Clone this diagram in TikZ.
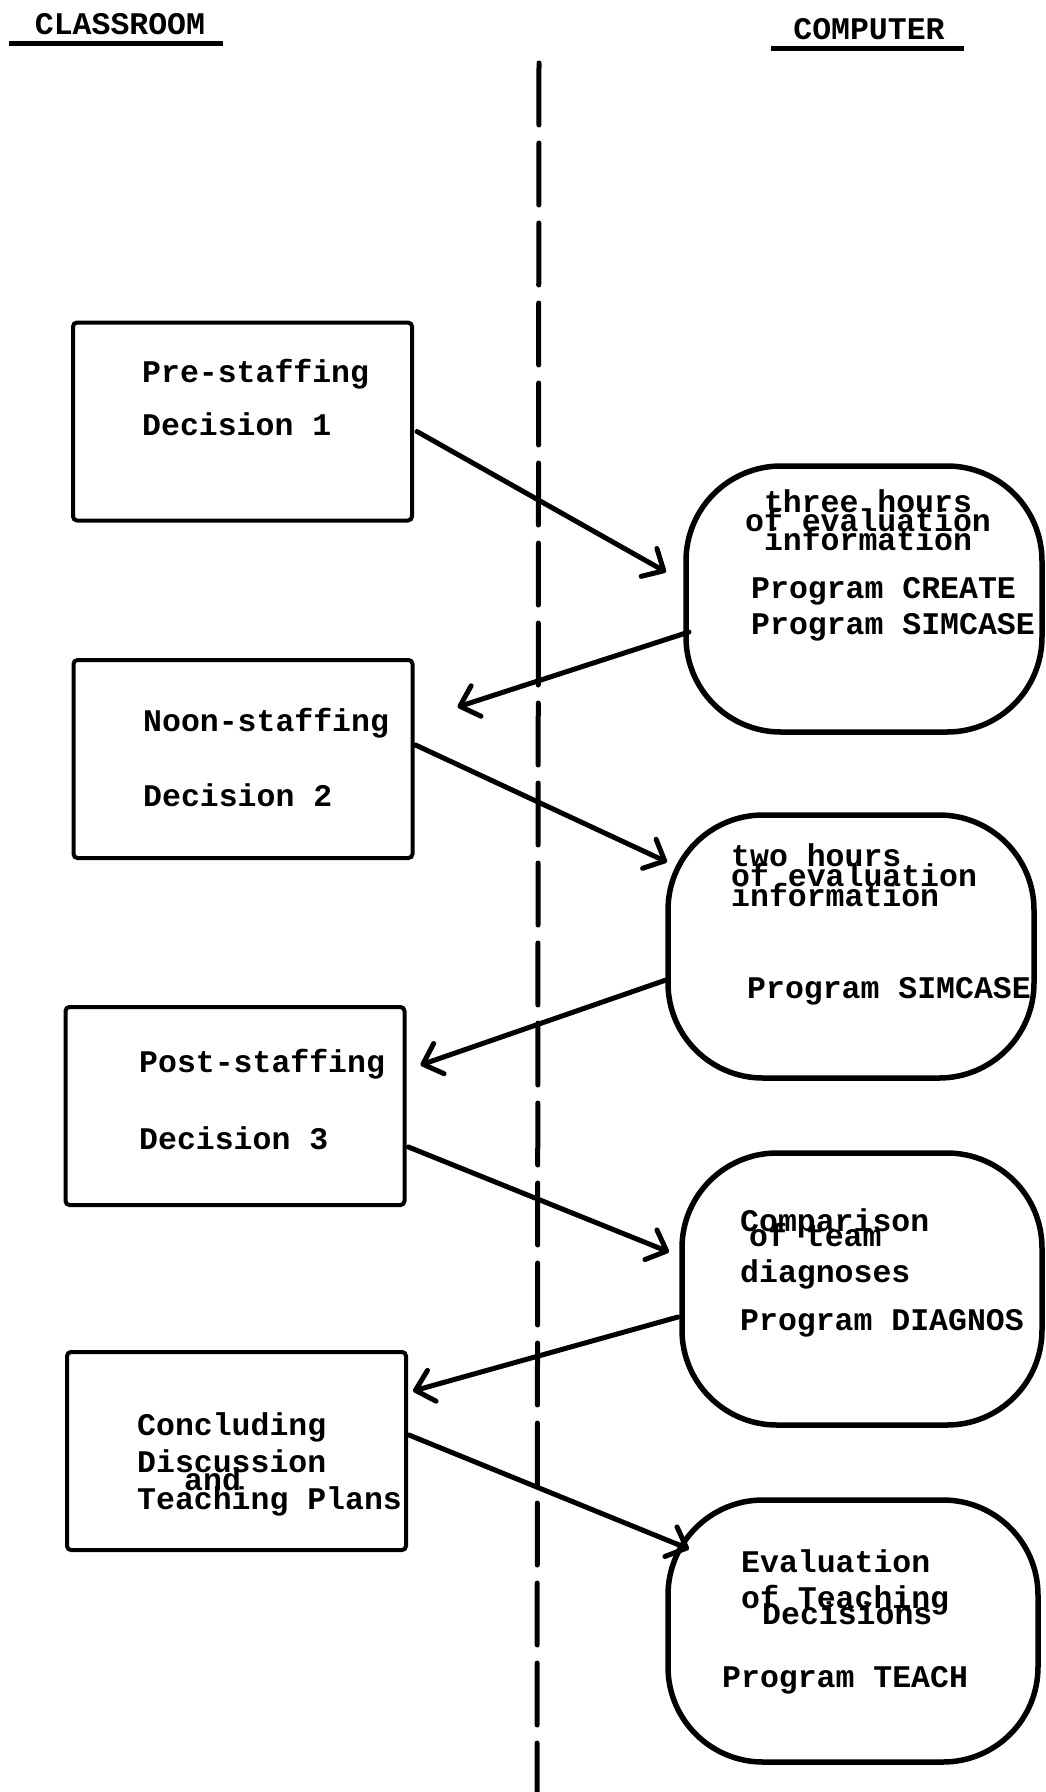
\documentclass[tikz,border=0pt]{standalone}
\usepackage{fontspec}
\setmonofont{Liberation Mono}
\usetikzlibrary{arrows.meta}
\newcommand\tightlines{\lineskiplimit=-\maxdimen\relax}

\begin{document}
\begin{tikzpicture}[x=1pt,y=-1pt,
        txt/.style={inner sep=0pt, anchor=base west, font=\ttfamily\bfseries\fontsize{31.5}{31.5}\selectfont},
        squeeze/.style={align=left, font=\ttfamily\bfseries\fontsize{31.5}{#1}\selectfont, execute at begin node=\tightlines},
        stage/.style={draw, line width=4pt, rounded corners=4pt, minimum width=339pt, minimum height=198pt, inner sep=0pt, outer sep=0pt},
        prog/.style={draw, line width=5.5pt, rounded corners=95pt, inner sep=0pt, outer sep=0pt},
        flow/.style={line width=5pt, line cap=round, -{Straight Barb[length=17pt,width=32pt,round]}},
        rule/.style={line width=5pt},
        divider/.style={line width=5pt, line cap=round, dash pattern=on 62pt off 18pt}]
        \path[use as bounding box] (0,0) rectangle (1046,1792);

        % headings
        \node[txt, anchor=base] (hclass) at (120,34) {CLASSROOM};
        \node[txt, anchor=base] (hcomp) at (869,39) {COMPUTER};
        \draw[rule] ([shift={(-26,9)}]hclass.base west) -- ([shift={(18,9)}]hclass.base east);
        \draw[rule] ([shift={(-22,9)}]hcomp.base west) -- ([shift={(19,9)}]hcomp.base east);

        % dividing line
        \coordinate (divtop) at (539,63);
        \coordinate (divbot) at (537,1792);
        \draw[divider] (divtop) -- (divbot);

        % classroom side
        \node[stage] (b1) at (242.5,421.5) {};
        \node[stage] (b2) at (243,759) {};
        \node[stage] (b3) at (235,1106) {};
        \node[stage] (b4) at (236.5,1451) {};

        \node[txt] (b1a) at (142,382) {Pre-staffing};
        \node[txt] (b1b) at (142,435) {Decision 1};
        \node[txt] (b2a) at (143,731) {Noon-staffing};
        \node[txt] (b2b) at (143,806) {Decision 2};
        \node[txt] (b3a) at (139,1072) {Post-staffing};
        \node[txt] (b3b) at (139,1149) {Decision 3};
        \node[txt] (b4a) at (137,1435) {Concluding};
        \node[txt, squeeze=18.5] (b4b) at (137,1509) {Discussion\\\hspace*{47pt}and\\Teaching Plans};

        % computer side
        \node[prog, minimum width=356pt, minimum height=266pt] (e1) at (864,599) {};
        \node[prog, minimum width=366pt, minimum height=263pt] (e2) at (851,946.5) {};
        \node[prog, minimum width=360pt, minimum height=272pt] (e3) at (862,1289) {};
        \node[prog, minimum width=370pt, minimum height=262pt] (e4) at (853,1631) {};

        \node[txt, squeeze=19, align=center, anchor=base] (e1a) at (868,550) {three hours\\of evaluation\\information};
        \node[txt] (e1b) at (751,598) {Program CREATE};
        \node[txt] (e1c) at (751,634) {Program SIMCASE};

        \node[txt, squeeze=20] (e2a) at (731,906) {two hours\\of evaluation\\information};
        \node[txt] (e2b) at (747,998) {Program SIMCASE};

        \node[txt, squeeze=15] (e3a) at (740,1246) {Comparison\\\hspace*{9pt}of team};
        \node[txt] (e3b) at (740,1282) {diagnoses};
        \node[txt] (e3c) at (740,1330) {Program DIAGNOS};

        \node[txt] (e4a) at (741,1572) {Evaluation};
        \node[txt, squeeze=16] (e4b) at (741,1624) {of Teaching\\\hspace*{21pt}Decisions};
        \node[txt] (e4c) at (722,1687) {Program TEACH};

        % flow between the two sides
        \draw[flow] ([shift={(5,10)}]b1.east) -- ([shift={(-20,-27)}]e1.west);
        \draw[flow] ([shift={(3,33)}]e1.west) -- ([shift={(45,-52)}]b2.east);
        \draw[flow] ([shift={(3,-14)}]b2.east) -- ([shift={(-1,47)}]e2.north west);
        \draw[flow] ([shift={(-2,33.5)}]e2.west) -- ([shift={(16,-41)}]b3.east);
        \draw[flow] ([shift={(4,41)}]b3.east) -- ([shift={(-13,-37)}]e3.west);
        \draw[flow] ([shift={(-4,28)}]e3.west) -- ([shift={(7,-60)}]b4.east);
        \draw[flow] ([shift={(3,-16)}]b4.east) -- ([shift={(21,49)}]e4.north west);
    \end{tikzpicture}
\end{document}
